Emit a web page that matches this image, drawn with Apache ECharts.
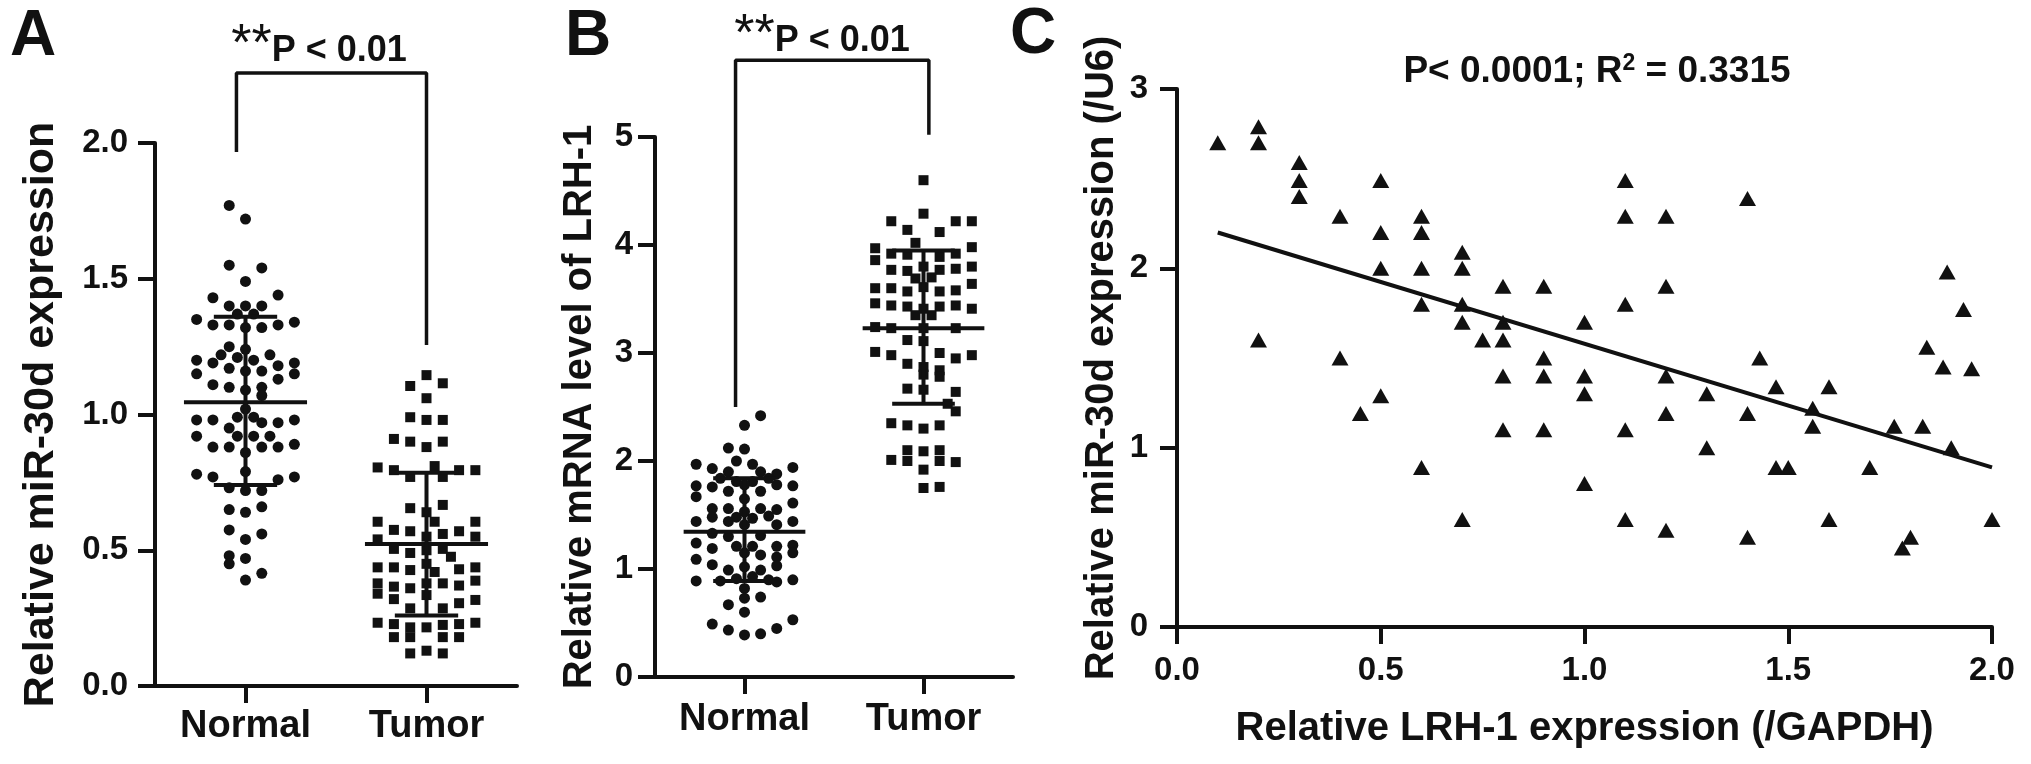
<!DOCTYPE html>
<html>
<head>
<meta charset="UTF-8">
<title>miR-30d and LRH-1 expression</title>
<script src="https://cdn.jsdelivr.net/npm/echarts@6.0.0/dist/echarts.min.js"></script>
<style>
    html, body { margin: 0; padding: 0; background: #fff; }
    #chart { width: 2031px; height: 764px; }
</style>
</head>
<body>
<div id="chart"></div>
<script>
// group names on the x axis of panels A and B
var groups = ['Normal', 'Tumor'];

// panel A, miR-30d: [column in the swarm, value]
var mirNormal = [[-1,1.77],[0,1.72],[-1,1.55],[1,1.54],[0,1.49],[-2,1.43],[2,1.44],[-1,1.40],[0,1.40],[1,1.40],
    [-3,1.35],[-0.5,1.37],[0.5,1.37],[-2,1.33],[-1,1.33],[0,1.32],[1,1.32],[2,1.33],[3,1.34],[-1,1.25],
    [-1.5,1.22],[0,1.24],[-0.5,1.21],[0.5,1.20],[1.5,1.22],[-3,1.20],[-2,1.19],[2,1.18],[3,1.19],[-1,1.17],
    [0,1.16],[1,1.16],[-3,1.15],[2,1.13],[3,1.15],[-2,1.11],[-1,1.10],[0,1.09],[1,1.10],[1,1.07],
    [0,1.02],[-3,0.98],[-2,0.98],[-0.5,0.99],[0.5,0.99],[-1,0.95],[1,0.97],[2,0.97],[3,0.98],[-0.5,0.92],
    [0.5,0.92],[-3,0.92],[1.5,0.92],[-2,0.88],[-1,0.88],[0,0.86],[1,0.88],[2,0.88],[3,0.89],[0,0.79],
    [-3,0.78],[-2,0.77],[2,0.76],[3,0.77],[-1,0.73],[0,0.72],[1,0.72],[-1,0.65],[0,0.64],[1,0.66],
    [-1,0.575],[0,0.54],[1,0.56],[-1,0.48],[-1,0.45],[0,0.47],[0,0.39],[1,0.415]];
var mirTumor = [[0,1.145],[-1,1.105],[1,1.115],[0,1.06],[-1,0.99],[0,0.98],[1,0.98],[-2,0.91],[-1,0.90],[0,0.88],
    [1,0.90],[-3,0.805],[-2,0.795],[-1,0.77],[0.5,0.81],[1,0.77],[2,0.795],[3,0.795],[-1,0.655],[1,0.667],
    [0,0.64],[-3,0.605],[0.5,0.605],[3,0.605],[-2,0.575],[-1,0.57],[1,0.56],[2,0.57],[0,0.55],[-3,0.54],
    [3,0.55],[-2,0.505],[-1,0.49],[0,0.50],[1,0.505],[1.5,0.476],[-3,0.437],[-2,0.437],[-1,0.427],[0,0.45],
    [0.5,0.42],[2,0.43],[3,0.437],[-3,0.378],[-3,0.34],[-2,0.366],[-1,0.36],[0,0.378],[1,0.378],[2,0.37],
    [3,0.388],[-2,0.32],[0,0.335],[2,0.305],[3,0.317],[-1,0.286],[1,0.286],[-3,0.233],[-2,0.228],[-1,0.216],
    [0,0.216],[1,0.225],[2,0.228],[3,0.233],[-2,0.18],[-1,0.18],[1,0.18],[2,0.18],[-1,0.12],[0,0.13],[1,0.12]];
// [group, mean, mean - SD, mean + SD]
var mirStats = [[0, 1.045, 0.74, 1.36], [1, 0.523, 0.26, 0.785]];

// panel B, LRH-1 mRNA
var lrhNormal = [[1,2.42],[0,2.33],[-1,2.12],[0,2.11],[-3,1.97],[-2,1.93],[-0.5,2.0],[0.5,1.97],[3,1.94],[-1,1.90],
    [1,1.90],[2,1.88],[-1.5,1.84],[-0.5,1.81],[0.5,1.81],[1.5,1.84],[-3,1.77],[-2,1.76],[0,1.78],[2,1.78],
    [3,1.77],[-3,1.67],[-1,1.72],[1,1.72],[0,1.65],[-2,1.56],[-1,1.56],[1,1.56],[2,1.55],[3,1.61],
    [0,1.53],[-2,1.48],[-0.5,1.48],[0.5,1.47],[1.5,1.49],[-3,1.44],[-1,1.44],[3,1.44],[2,1.41],[0,1.41],
    [-2,1.33],[-1,1.30],[1,1.31],[-3,1.24],[-2,1.19],[-0.5,1.21],[0.5,1.21],[2,1.21],[3,1.22],[-3,1.09],
    [0,1.15],[1,1.13],[2,1.11],[3,1.15],[-2,1.04],[-1,0.99],[0,1.02],[1,0.99],[2,1.03],[-3,0.89],
    [-1.5,0.89],[-0.5,0.91],[0.5,0.93],[1.5,0.90],[3,0.90],[2,0.88],[0,0.82],[1,0.74],[0,0.73],[-1,0.67],
    [0,0.60],[-2,0.49],[3,0.53],[-1,0.435],[2,0.45],[0,0.39],[1,0.40]];
var lrhTumor = [[0,4.60],[0,4.29],[-2,4.22],[-1,4.14],[1,4.12],[2,4.22],[3,4.22],[-0.5,4.02],[-3,3.97],[-3,3.86],
    [3,3.98],[-2,3.92],[-1,3.91],[1,3.89],[2,3.92],[0,3.80],[-2,3.77],[-1,3.76],[1,3.77],[2,3.78],
    [3,3.80],[-0.5,3.69],[0.5,3.70],[-3,3.60],[-2,3.60],[-1,3.57],[0,3.61],[1,3.57],[2,3.58],[3,3.64],
    [-3,3.46],[-2,3.44],[-1,3.43],[0,3.41],[1,3.43],[2,3.44],[3,3.41],[-0.5,3.35],[0.5,3.35],[-3,3.24],
    [-2,3.23],[2,3.23],[0,3.23],[-1,3.12],[0,3.11],[-3,3.01],[-2,2.98],[1,3.00],[2,2.95],[3,2.98],
    [-1,2.90],[0,2.87],[1,2.84],[0,2.80],[1,2.78],[-1,2.67],[0,2.66],[2,2.64],[1.5,2.53],[2,2.46],
    [-2,2.35],[-1,2.33],[0,2.30],[1,2.33],[-1,2.10],[0,2.09],[1,2.10],[-2,2.01],[-1,2.0],[1,2.0],
    [2,1.99],[0,1.92],[0,1.75],[1,1.76]];
var lrhStats = [[0, 1.345, 0.89, 1.84], [1, 3.23, 2.53, 3.95]];

// significance brackets [x, y] in data units
var bracketA = [[-0.05, 1.967], [-0.05, 2.258], [1, 2.258], [1, 1.256]];
var bracketB = [[-0.05, 2.5], [-0.05, 5.71], [1.03, 5.71], [1.03, 5.02]];

// panel C, correlation: [LRH-1, miR-30d]
var corrPoints = [[0.10,2.70],[0.20,2.79],[0.20,2.70],[0.20,1.60],[0.30,2.59],[0.30,2.49],[0.30,2.40],
    [0.40,2.29],[0.40,1.50],[0.45,1.19],[0.50,2.49],[0.50,2.20],[0.50,2.00],[0.50,1.29],
    [0.60,2.29],[0.60,2.20],[0.60,2.00],[0.60,1.80],[0.60,0.89],[0.70,2.09],[0.70,2.00],[0.70,1.80],
    [0.70,1.70],[0.70,0.60],[0.75,1.60],[0.80,1.90],[0.80,1.70],[0.80,1.60],[0.80,1.40],[0.80,1.10],
    [0.90,1.90],[0.90,1.50],[0.90,1.40],[0.90,1.10],[1.00,1.70],[1.00,1.40],[1.00,1.30],[1.00,0.80],
    [1.10,2.49],[1.10,2.29],[1.10,1.80],[1.10,1.10],[1.10,0.60],[1.20,2.29],[1.20,1.90],[1.20,1.40],
    [1.20,1.19],[1.20,0.54],[1.30,1.30],[1.30,1.00],[1.40,2.39],[1.40,1.19],[1.40,0.50],[1.43,1.50],
    [1.47,1.34],[1.47,0.89],[1.50,0.89],[1.56,1.22],[1.56,1.12],[1.60,1.34],[1.60,0.60],[1.70,0.89],
    [1.76,1.12],[1.78,0.44],[1.80,0.50],[1.83,1.12],[1.84,1.56],[1.88,1.45],[1.89,1.98],[1.90,1.00],
    [1.93,1.77],[1.95,1.44],[2.00,0.60]];
var fitLine = [[0.1, 2.2], [2.0, 0.89]];

var chart = echarts.init(document.getElementById('chart'));
var ink = '#111';
var font = '"Liberation Sans", Arial, Helvetica, sans-serif';
var COL = 0.09;          // swarm column step, in x units
var MEAN_HALF = 0.34;    // half width of the mean line
var CAP_HALF = 0.175;    // half width of the SD caps

function swarm(points, g) {
    return points.map(function (p) { return [g + p[0] * COL, p[1]]; });
}

function seg(a, b) {
    return { type: 'line', shape: { x1: a[0], y1: a[1], x2: b[0], y2: b[1] },
             style: { stroke: ink, lineWidth: 4 } };
}

function meanSd(params, api) {
    var g = api.value(0), m = api.value(1), lo = api.value(2), hi = api.value(3);
    return {
        type: 'group',
        children: [
            seg(api.coord([g - MEAN_HALF, m]), api.coord([g + MEAN_HALF, m])),
            seg(api.coord([g, lo]), api.coord([g, hi])),
            seg(api.coord([g - CAP_HALF, hi]), api.coord([g + CAP_HALF, hi])),
            seg(api.coord([g - CAP_HALF, lo]), api.coord([g + CAP_HALF, lo]))
        ]
    };
}

var tickStyle = { show: true, inside: false, length: 17, lineStyle: { color: ink, width: 4 } };

function groupAxis(gi, margin) {
    return {
        gridIndex: gi, type: 'value', min: -0.5, max: 1.5,
        axisLine: { show: true, onZero: false, lineStyle: { color: ink, width: 4 } },
        axisTick: echarts.util.extend({ customValues: [0, 1] }, tickStyle),
        axisLabel: { customValues: [0, 1], margin: margin, color: ink, fontSize: 38, fontWeight: 'bold',
                     fontFamily: font, formatter: function (v) { return groups[Math.round(v)]; } },
        splitLine: { show: false }
    };
}

function valueAxis(gi, max, step, digits, margin, name, nameGap, nameSize) {
    return {
        gridIndex: gi, type: 'value', min: 0, max: max, interval: step,
        axisLine: { show: true, onZero: false, lineStyle: { color: ink, width: 4 } },
        axisTick: tickStyle,
        axisLabel: { margin: margin, color: ink, fontSize: 33, fontWeight: 'bold', fontFamily: font,
                     formatter: function (v) { return v.toFixed(digits); } },
        splitLine: { show: false },
        name: name, nameLocation: 'middle', nameGap: nameGap,
        nameTextStyle: { color: ink, fontSize: nameSize, fontWeight: 'bold', fontFamily: font }
    };
}

function label(text, x, y, size) {
    return { type: 'text', x: x, y: y,
             style: { text: text, fill: ink, fontSize: size, fontWeight: 'bold', fontFamily: font,
                      align: 'center', verticalAlign: 'middle' } };
}

function pText(x, y) {
    return { type: 'text', x: x, y: y,
             style: { text: '{a|**}{b|P < 0.01}', fill: ink, align: 'center', verticalAlign: 'middle',
                      rich: {
                          a: { fontSize: 52, fontFamily: font, fill: ink, lineHeight: 46 },
                          b: { fontSize: 36, fontWeight: 'bold', fontFamily: font, fill: ink,
                               lineHeight: 32, verticalAlign: 'bottom' }
                      } } };
}

function dots(xi, symbol, size, data) {
    return { type: 'scatter', xAxisIndex: xi, yAxisIndex: xi, symbol: symbol, symbolSize: size,
             itemStyle: { color: ink, opacity: 1 }, data: data };
}

var option = {
    animation: false,
    backgroundColor: '#fff',
    grid: [
        { left: 155, top: 143, width: 362, height: 543 },
        { left: 655, top: 137, width: 358, height: 540 },
        { left: 1177, top: 89, width: 815, height: 538 }
    ],
    xAxis: [
        groupAxis(0, 22),
        groupAxis(1, 24),
        valueAxis(2, 2, 0.5, 1, 27, 'Relative LRH-1 expression (/GAPDH)', 82, 40)
    ],
    yAxis: [
        valueAxis(0, 2, 0.5, 1, 27, 'Relative miR-30d expression', 92, 43),
        valueAxis(1, 5, 1, 0, 22, 'Relative mRNA level of LRH-1', 55, 40),
        valueAxis(2, 3, 1, 0, 29, 'Relative miR-30d expression (/U6)', 55, 40)
    ],
    series: [
        dots(0, 'circle', 11, swarm(mirNormal, 0)),
        dots(0, 'rect', 10, swarm(mirTumor, 1)),
        { type: 'custom', xAxisIndex: 0, yAxisIndex: 0, renderItem: meanSd, data: mirStats, z: 5 },
        { type: 'line', xAxisIndex: 0, yAxisIndex: 0, clip: false, symbol: 'none',
          lineStyle: { color: ink, width: 3.5 }, data: bracketA },

        dots(1, 'circle', 11, swarm(lrhNormal, 0)),
        dots(1, 'rect', 10, swarm(lrhTumor, 1)),
        { type: 'custom', xAxisIndex: 1, yAxisIndex: 1, renderItem: meanSd, data: lrhStats, z: 5 },
        { type: 'line', xAxisIndex: 1, yAxisIndex: 1, clip: false, symbol: 'none',
          lineStyle: { color: ink, width: 3.5 }, data: bracketB },

        dots(2, 'triangle', [17, 15], corrPoints),
        { type: 'line', xAxisIndex: 2, yAxisIndex: 2, symbol: 'none',
          lineStyle: { color: ink, width: 4 }, data: fitLine }
    ],
    graphic: [
        label('A', 33, 37, 64),
        label('B', 588, 37, 64),
        label('C', 1033, 35, 64),
        pText(319, 46),
        pText(822, 36),
        { type: 'text', x: 1597, y: 72,
          style: { text: '{p|P< 0.0001; R}{s|2}{p| = 0.3315}', fill: ink, align: 'center', verticalAlign: 'middle',
                   rich: {
                       p: { fontSize: 37, fontWeight: 'bold', fontFamily: font, fill: ink, lineHeight: 40 },
                       s: { fontSize: 23, fontWeight: 'bold', fontFamily: font, fill: ink, verticalAlign: 'top',
                            lineHeight: 24 }
                   } } }
    ]
};
chart.setOption(option);
</script>
</body>
</html>
